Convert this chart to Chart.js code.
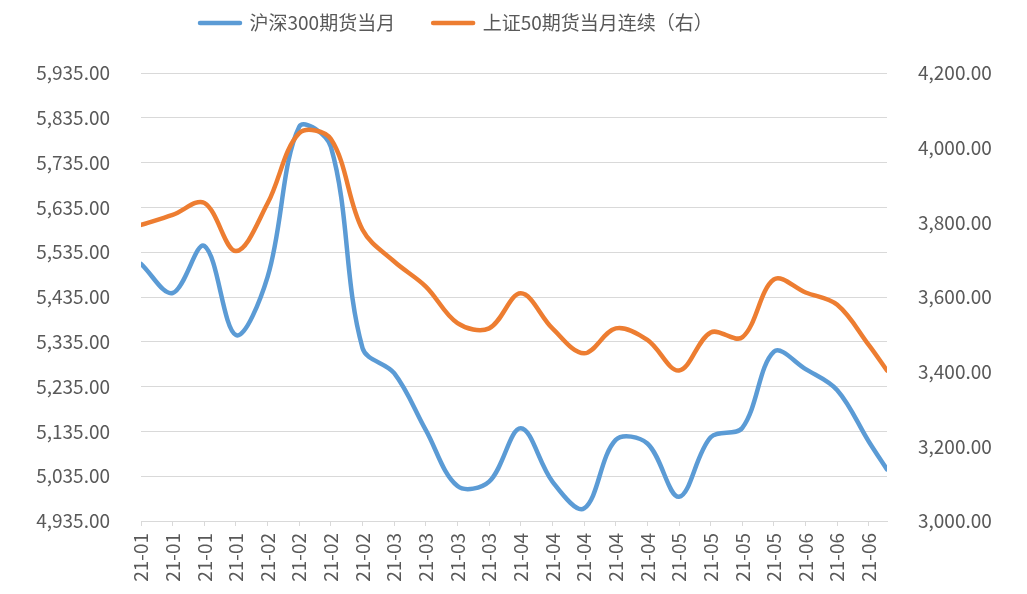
<!DOCTYPE html>
<html>
<head>
<meta charset="utf-8">
<script src="https://cdn.jsdelivr.net/npm/chart.js@4/dist/chart.umd.min.js"></script>
<style>
html,body{margin:0;padding:0;background:#fff;}
#wrap{width:1027px;height:594px;position:relative;}
</style>
</head>
<body>
<div id="wrap"><canvas id="c"></canvas></div>
<script>
// ---- data ----
const dates = [
  '2021-01-07','2021-01-14','2021-01-21','2021-01-28',
  '2021-02-04','2021-02-11','2021-02-18','2021-02-25',
  '2021-03-04','2021-03-11','2021-03-18','2021-03-25',
  '2021-04-01','2021-04-08','2021-04-15','2021-04-22','2021-04-29',
  '2021-05-06','2021-05-13','2021-05-20','2021-05-27',
  '2021-06-03','2021-06-10','2021-06-17','2021-06-21'
];
const xTickLabels = [
  '21-01','21-01','21-01','21-01',
  '21-02','21-02','21-02','21-02',
  '21-03','21-03','21-03','21-03',
  '21-04','21-04','21-04','21-04','21-04',
  '21-05','21-05','21-05','21-05',
  '21-06','21-06','21-06'
];
const hs300 = [5509, 5444, 5549, 5350, 5480, 5815, 5770, 5321, 5265, 5138, 5013, 5023,
               5142, 5023, 4963, 5116, 5108, 4989, 5122, 5143, 5313, 5274, 5227, 5112, 5050];
const sz50  = [3793, 3820, 3852, 3723, 3851, 4039, 4023, 3780, 3695, 3628, 3530, 3516,
               3610, 3516, 3449, 3516, 3485, 3403, 3505, 3492, 3647, 3612, 3579, 3471, 3403];
const seriesNames = ['沪深300期货当月', '上证50期货当月连续（右）'];
const leftTickValues  = [4935, 5035, 5135, 5235, 5335, 5435, 5535, 5635, 5735, 5835, 5935];
const rightTickValues = [3000, 3200, 3400, 3600, 3800, 4000, 4200];

// ---- helpers ----
const DAY = 86400000;
const t0 = Date.parse(dates[0] + 'T00:00:00Z');
const dayOf = d => Math.round((Date.parse(d + 'T00:00:00Z') - t0) / DAY);
const xs = dates.map(dayOf);
const fmt = v => Number(v).toLocaleString('en-US', {minimumFractionDigits: 2, maximumFractionDigits: 2});
const FONT = '"Noto Sans CJK SC", "Noto Sans", sans-serif';
const GREY = '#595959';
const GRID = '#d9d9d9';

const legendPos = {
  id: 'legendPos',
  afterLayout(chart) {
    const lg = chart.legend;
    if (!lg) return;
    const pad = lg.options.labels.padding;
    lg.top = 23 - pad - 9.5;
    lg.left = 200 - pad;
  }
};

new Chart(document.getElementById('c'), {
  type: 'line',
  data: {
    datasets: [
      {
        label: seriesNames[0],
        data: hs300.map((v, i) => ({x: xs[i], y: v})),
        yAxisID: 'y',
        borderColor: '#5B9BD5',
        backgroundColor: '#5B9BD5',
        borderWidth: 4.5,
        borderCapStyle: 'round',
        order: 2
      },
      {
        label: seriesNames[1],
        data: sz50.map((v, i) => ({x: xs[i], y: v})),
        yAxisID: 'y1',
        borderColor: '#ED7D31',
        backgroundColor: '#ED7D31',
        borderWidth: 4.5,
        borderCapStyle: 'round',
        order: 1
      }
    ]
  },
  options: {
    responsive: true,
    maintainAspectRatio: false,
    animation: false,
    layout: {padding: {top: 6, left: 0, right: 0, bottom: 0}},
    elements: {
      point: {radius: 0, hoverRadius: 0},
      line: {tension: 0.35, borderJoinStyle: 'round', fill: false}
    },
    plugins: {
      legend: {
        position: 'top',
        align: 'start',
        labels: {
          usePointStyle: true,
          pointStyle: 'line',
          pointStyleWidth: 40,
          padding: 38,
          color: GREY,
          font: {size: 19, family: FONT},
          generateLabels: chart => Chart.defaults.plugins.legend.labels.generateLabels(chart)
            .map(it => Object.assign(it, {lineWidth: 4.5, lineCap: 'round'})),
          sort: (a, b) => a.datasetIndex - b.datasetIndex
        }
      },
      tooltip: {enabled: false}
    },
    scales: {
      x: {
        type: 'linear',
        min: xs[0],
        max: xs[xs.length - 1],
        grid: {drawOnChartArea: false, drawTicks: true, tickLength: 5, color: GRID, lineWidth: 1},
        border: {display: true, color: GRID, width: 1},
        afterBuildTicks: s => { s.ticks = xTickLabels.map((_, i) => ({value: xs[i]})); },
        afterFit: s => { s.height = 73; },
        ticks: {
          autoSkip: false,
          minRotation: 90,
          maxRotation: 90,
          padding: 7,
          color: GREY,
          font: {size: 19, family: FONT},
          callback: (v, i) => xTickLabels[i]
        }
      },
      y: {
        position: 'left',
        min: leftTickValues[0],
        max: leftTickValues[leftTickValues.length - 1],
        grid: {color: GRID, lineWidth: 1, drawTicks: false},
        border: {display: false},
        afterBuildTicks: s => { s.ticks = leftTickValues.map(v => ({value: v})); },
        afterFit: s => { s.width = 141; },
        ticks: {padding: 31, color: GREY, font: {size: 19, family: FONT}, callback: v => fmt(v)}
      },
      y1: {
        position: 'right',
        min: rightTickValues[0],
        max: rightTickValues[rightTickValues.length - 1],
        grid: {display: false, drawTicks: false},
        border: {display: false},
        afterBuildTicks: s => { s.ticks = rightTickValues.map(v => ({value: v})); },
        afterFit: s => { s.width = 140; },
        ticks: {padding: 31, color: GREY, font: {size: 19, family: FONT}, callback: v => fmt(v)}
      }
    }
  },
  plugins: [legendPos]
});
</script>
</body>
</html>
